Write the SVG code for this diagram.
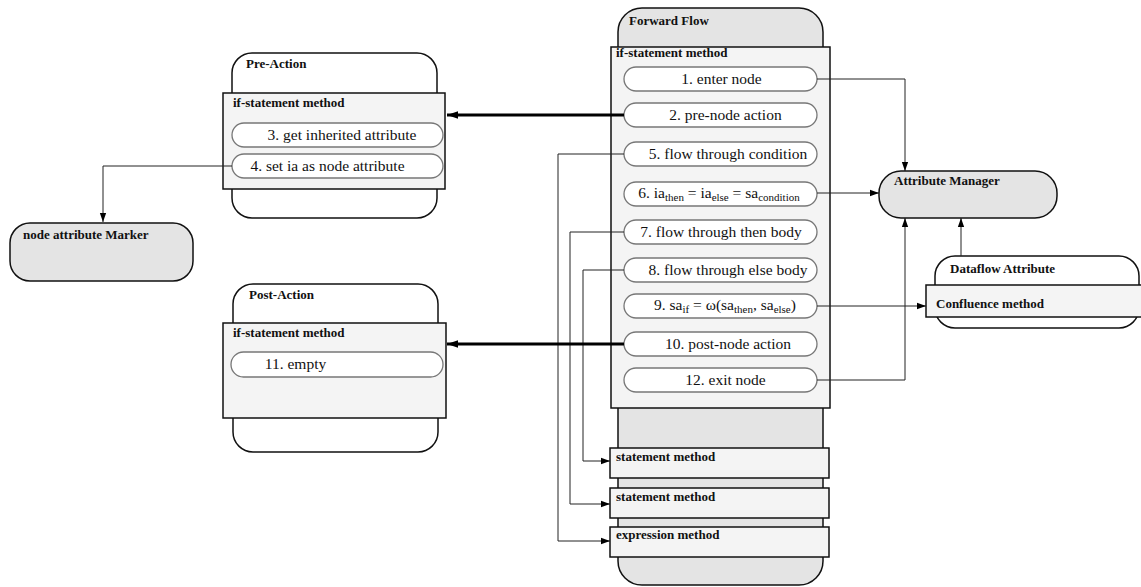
<svg xmlns="http://www.w3.org/2000/svg" width="1141" height="587" viewBox="0 0 1141 587">
<style>
.outer{fill:#fff;stroke:#111;stroke-width:1.5}
.gray{fill:#e4e4e4;stroke:#111;stroke-width:1.5}
.panel{fill:#f4f4f4;stroke:#111;stroke-width:1.5}
.pill{fill:#fff;stroke:#777;stroke-width:1.3}
.t{font-family:"Liberation Serif","Times New Roman",serif;font-size:15.5px;fill:#111}
.b{font-family:"Liberation Serif","Times New Roman",serif;font-size:13px;font-weight:bold;fill:#111}
.m{text-anchor:middle}
.c{fill:none;stroke:#222;stroke-width:1}
.thick{fill:none;stroke:#000;stroke-width:3}
.s{font-size:11px}
</style>
<defs>
<marker id="a" viewBox="0 0 10 10" refX="10" refY="5" markerWidth="9" markerHeight="9" markerUnits="userSpaceOnUse" orient="auto"><path d="M0,1.5 L10,5 L0,8.5 Z" fill="#000"/></marker>
<marker id="ab" viewBox="0 0 10 10" refX="10" refY="5" markerWidth="11" markerHeight="11" markerUnits="userSpaceOnUse" orient="auto"><path d="M0,1.5 L10,5 L0,8.5 Z" fill="#000"/></marker>
</defs>

<g id="forward-flow">
<rect class="gray" x="618" y="8" width="205" height="577" rx="24"/>
<text class="b" x="629" y="25">Forward Flow</text>
<rect class="panel" x="611" y="47" width="219" height="361"/>
<text class="b" x="616" y="57">if-statement method</text>
<rect class="pill" x="624" y="67" width="193" height="24" rx="12"/>
<text class="t m" x="721.5" y="84">1. enter node</text>
<rect class="pill" x="624" y="103" width="193" height="24" rx="12"/>
<text class="t m" x="725.5" y="120">2. pre-node action</text>
<rect class="pill" x="624" y="142" width="193" height="24" rx="12"/>
<text class="t m" x="728" y="159">5. flow through condition</text>
<rect class="pill" x="624" y="182" width="193" height="24" rx="12"/>
<text class="t m" x="719" y="198">6. ia<tspan class="s" dy="3">then</tspan><tspan dy="-3"> = ia</tspan><tspan class="s" dy="3">else</tspan><tspan dy="-3"> = sa</tspan><tspan class="s" dy="3">condition</tspan></text>
<rect class="pill" x="624" y="220" width="193" height="24" rx="12"/>
<text class="t m" x="721" y="237">7. flow through then body</text>
<rect class="pill" x="624" y="258" width="193" height="24" rx="12"/>
<text class="t m" x="728" y="275">8. flow through else body</text>
<rect class="pill" x="624" y="294" width="193" height="24" rx="12"/>
<text class="t m" x="725" y="310">9. sa<tspan class="s" dy="3">if</tspan><tspan dy="-3"> = ω(sa</tspan><tspan class="s" dy="3">then</tspan><tspan dy="-3">, sa</tspan><tspan class="s" dy="3">else</tspan><tspan dy="-3">)</tspan></text>
<rect class="pill" x="624" y="332" width="193" height="24" rx="12"/>
<text class="t m" x="728" y="349">10. post-node action</text>
<rect class="pill" x="624" y="368" width="193" height="24" rx="12"/>
<text class="t m" x="725.5" y="385">12. exit node</text>
</g>

<g id="statement-method-1">
<rect class="panel" x="610" y="448" width="219" height="30"/>
<text class="b" x="616" y="461">statement method</text>
</g>
<g id="statement-method-2">
<rect class="panel" x="610" y="488" width="219" height="30"/>
<text class="b" x="616" y="501">statement method</text>
</g>
<g id="expression-method">
<rect class="panel" x="610" y="527" width="219" height="30"/>
<text class="b" x="616" y="539">expression method</text>
</g>

<g id="pre-action">
<rect class="outer" x="232" y="53" width="205" height="165" rx="20"/>
<text class="b" x="246" y="68">Pre-Action</text>
<rect class="panel" x="223" y="93" width="222" height="96"/>
<text class="b" x="233" y="107">if-statement method</text>
<rect class="pill" x="232" y="123" width="211" height="24" rx="12"/>
<text class="t m" x="342" y="140">3. get inherited attribute</text>
<rect class="pill" x="232" y="154" width="211" height="24" rx="12"/>
<text class="t m" x="327.5" y="171">4. set ia as node attribute</text>
</g>

<g id="node-attribute-marker">
<rect class="gray" x="10" y="223" width="183" height="58" rx="20"/>
<text class="b" x="23" y="239">node attribute Marker</text>
</g>

<g id="post-action">
<rect class="outer" x="233" y="284" width="205" height="168" rx="20"/>
<text class="b" x="249" y="299">Post-Action</text>
<rect class="panel" x="223" y="323" width="223" height="95"/>
<text class="b" x="233" y="337">if-statement method</text>
<rect class="pill" x="231" y="352" width="212" height="25" rx="12.5"/>
<text class="t m" x="295.5" y="369">11. empty</text>
</g>

<g id="attribute-manager">
<rect class="gray" x="879" y="171" width="178" height="47" rx="22"/>
<text class="b" x="894" y="185">Attribute Manager</text>
</g>

<g id="dataflow-attribute">
<rect class="outer" x="935" y="256" width="204" height="72" rx="20"/>
<text class="b" x="950" y="273">Dataflow Attribute</text>
<rect class="panel" x="926" y="285" width="220" height="32"/>
<text class="b" x="936" y="308">Confluence method</text>
</g>

<g id="connectors">
<path class="c" d="M817,79 H905 V171" marker-end="url(#a)"/>
<path class="thick" d="M624,115 H447" marker-end="url(#ab)"/>
<path class="c" d="M624,154 H558 V541 H610" marker-end="url(#a)"/>
<path class="c" d="M817,193 H879" marker-end="url(#a)"/>
<path class="c" d="M624,232 H570 V504 H610" marker-end="url(#a)"/>
<path class="c" d="M624,270 H583 V461 H610" marker-end="url(#a)"/>
<path class="c" d="M817,306 H926" marker-end="url(#a)"/>
<path class="thick" d="M624,344 H447" marker-end="url(#ab)"/>
<path class="c" d="M817,380 H905 V218" marker-end="url(#a)"/>
<path class="c" d="M961,256 V218" marker-end="url(#a)"/>
<path class="c" d="M232,166 H103 V222" marker-end="url(#a)"/>
</g>
</svg>
